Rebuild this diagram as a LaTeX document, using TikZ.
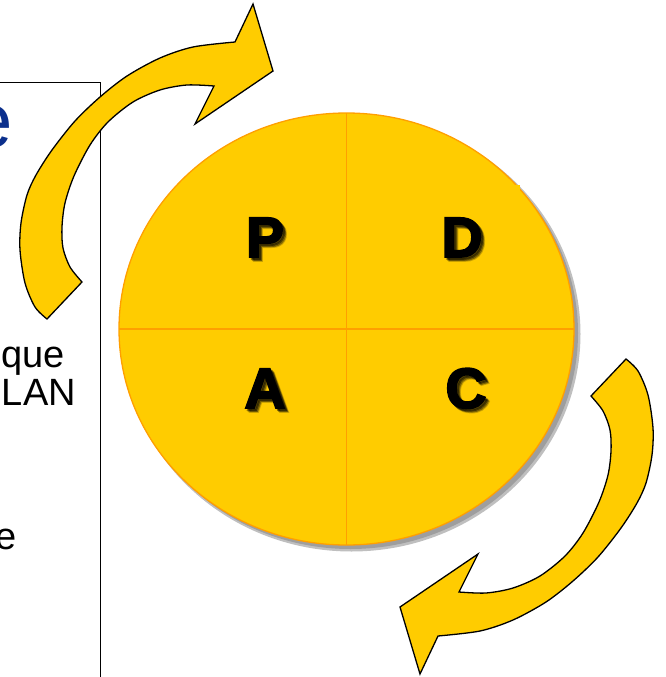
\documentclass[tikz,border=0pt]{standalone}
\usepackage{fontspec}
\setmainfont{Liberation Sans}
\newfontfamily\letterfont[FakeBold=3]{Liberation Sans Bold}
\usetikzlibrary{shapes.geometric}
\definecolor{pdcagold}{HTML}{FFCC00}
\definecolor{pdcaline}{HTML}{FF9F00}
\definecolor{titleblue}{HTML}{0B2F8C}

\begin{document}
\begin{tikzpicture}[x=1pt,y=-1pt,
  cyclearrow/.style={fill=pdcagold, draw=black, line width=1.3pt, line join=miter},
  fragment/.style={font=\fontsize{38}{39}\selectfont, anchor=base east, inner sep=0pt},
  phase/.style={font=\letterfont\fontsize{57}{57}\selectfont, anchor=base, inner sep=0pt},
  phaseshadow/.style={phase, text=black, opacity=0.3},
  bentarrow/.pic={
    \draw[cyclearrow]
      (47,319) -- plot[smooth] coordinates {(47,319) (35,307) (25,283) (20,250) (21,223)
        (27,195) (36,175) (52,150) (75,121) (100,97) (127,76) (160,58) (193,47) (235,42)}
      -- (253,4) -- (273,71) -- (195,124) -- (214,86)
      -- plot[smooth] coordinates {(214,86) (187,85) (160,90) (133,102) (108,122)
        (90,145) (74,176) (65,203) (62,227) (63,248) (70,267) (82,282)}
      -- cycle;
  },
]
\useasboundingbox (0,0) rectangle (665,677);
\clip (0,0) rectangle (665,677);

% text frame on the left, cut by the page edge
\draw[line width=1pt] (-10,82) rectangle (100,720);
\node[font=\fontsize{78}{78}\selectfont, text=titleblue, anchor=base east, inner sep=0pt] (title) at (13,147) {e};
\node[fragment] (line1) at (65,367) {que};
\node[fragment] (line2) at (76,405) {LAN};
\node[fragment] (line3) at (17,549) {e};

% soft shadow of the wheel
\fill[black!25] (351.5,334) ellipse [x radius=229, y radius=217.5];
\fill[black!38] (350.5,333) ellipse [x radius=227.5, y radius=216];

% the PDCA wheel
\node[ellipse, fill=pdcagold, minimum width=455pt, minimum height=432pt, inner sep=0pt] (wheel) at (346.5,329) {};
\draw[pdcaline, line width=1.5pt] (wheel.north) -- (wheel.south);
\draw[pdcaline, line width=1.5pt] (wheel.west) -- (wheel.east);
\draw[pdcaline, line width=1.3pt] (wheel.center) ellipse [x radius=227.5, y radius=216];
\fill[pdcagold] (510,185) rectangle (520,194);

% quadrant letters with their blurred shadows
\foreach \lx/\ly/\lt/\ln in {265/257/P/plan, 462/257/D/do, 265/408/A/act, 466/408/C/check}{
  \node[phaseshadow, opacity=0.2] at (\lx+4,\ly+4) {\lt};
  \node[phaseshadow, opacity=0.3] at (\lx+3,\ly+3) {\lt};
  \node[phaseshadow, opacity=0.4] at (\lx+2,\ly+2) {\lt};
  \node[phase] (\ln) at (\lx,\ly) {\lt};
}

% circular arrows around the wheel
\pic (arrowtop) at (0,0) {bentarrow};
\pic[rotate=180] (arrowbottom) at (673,678) {bentarrow};
\end{tikzpicture}
\end{document}
